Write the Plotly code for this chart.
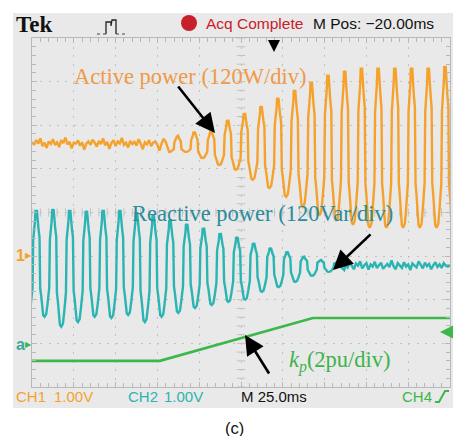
import plotly.graph_objects as go

# ---------------- data (screen divisions: x 0..10, y 0..8) ----------------
PERIOD = 0.4                      # one oscillation period in time divisions

# active power (orange): noisy flat start, then growing oscillation
ORANGE_FLAT = [5.62,5.55,5.66,5.58,5.70,5.52,5.60,5.48,5.63,5.57,5.68,5.55,5.61,5.50,5.66,5.59,
               5.72,5.56,5.62,5.47,5.60,5.58,5.65,5.53,5.61,5.44,5.58,5.63,5.55,5.67,5.60,5.51,
               5.64,5.57,5.70,5.54,5.62,5.46,5.59,5.66,5.52,5.63,5.58,5.71,5.55,5.60,5.49,5.64,
               5.57,5.62,5.53,5.68,5.58,5.45,5.61,5.56,5.66,5.52,5.60,5.63,5.55,5.42,5.58,5.69,
               5.62,5.50]
ORANGE_FIRST_PEAK = 3.48
ORANGE_PEAK = [5.76,5.85,5.87,6.12,6.28,6.44,6.63,6.81,7.00,7.16,7.25,7.32,7.32,7.32,7.32,7.32,7.36]
ORANGE_TROUGH = [5.39,5.25,5.09,4.98,4.75,4.56,4.36,4.13,3.94,3.81,3.72,3.65,3.65,3.65,3.65,3.65,3.65]
ORANGE_CENTER = 5.5

# reactive power (cyan): full oscillation, decaying, then noisy flat
CYAN_FIRST_PEAK = 0.1
CYAN_PEAK = [4.06,4.08,4.06,4.04,4.06,4.06,4.01,3.94,3.83,3.74,3.65,3.53,3.44,3.30,3.19,3.10,2.98,2.91,2.87]
CYAN_TROUGH = [1.61,1.38,1.49,1.61,1.58,1.65,1.49,1.61,1.70,1.81,1.88,1.95,2.00,2.18,2.29,2.41,2.55,2.64,2.68]
CYAN_CENTER = 2.8
CYAN_FLAT = [2.80,2.74,2.86,2.77,2.70,2.83,2.78,2.88,2.72,2.79,2.84,2.69,2.81,2.76,2.87,2.73,
             2.80,2.85,2.71,2.78,2.82,2.75,2.90,2.77,2.70,2.84,2.79,2.73,2.86,2.76,2.81,2.68,
             2.83,2.78,2.74,2.88,2.80,2.72,2.85,2.77,2.82,2.70,2.79,2.86,2.75,2.81,2.73,2.84,
             2.78,2.76,2.80]

# k_p ramp (green)
KP_T = [0.0, 3.06, 6.72, 10.0]
KP_V = [0.60, 0.60, 1.58, 1.58]

# ---------------- waveform shape (style of one stepped cycle) ----------------
TPL_PHASE = [-0.50,-0.40,-0.32,-0.28,-0.22,-0.18,-0.12,-0.07,-0.04,0.00,0.04,0.08,0.14,0.20,0.24,0.30,0.36,0.42]
TPL_LEVEL = [-1.0,-0.95,-0.75,-0.55,-0.45,0.45,0.62,0.80,1.0,0.93,1.0,0.80,0.65,0.50,-0.45,-0.60,-0.80,-0.97]


def cycles(first_peak, peaks, troughs, center):
    xs, ys = [], []
    for k, p in enumerate(peaks):
        tk = first_peak + k * PERIOD
        for ph, lv in zip(TPL_PHASE, TPL_LEVEL):
            if lv >= 0:
                y = center + lv * (p - center)
            else:
                tr = troughs[k] if ph > 0 else troughs[max(k - 1, 0)]
                y = center + (-lv) * (tr - center)
            xs.append(tk + ph * PERIOD)
            ys.append(y)
    return xs, ys


ox_c, oy_c = cycles(ORANGE_FIRST_PEAK, ORANGE_PEAK, ORANGE_TROUGH, ORANGE_CENTER)
ox = [i * 0.05 for i in range(len(ORANGE_FLAT))] + ox_c
oy = list(ORANGE_FLAT) + oy_c

cx_c, cy_c = cycles(CYAN_FIRST_PEAK, CYAN_PEAK, CYAN_TROUGH, CYAN_CENTER)
flat_start = CYAN_FIRST_PEAK + (len(CYAN_PEAK) - 1) * PERIOD + 0.5 * PERIOD
step = (10.0 - flat_start) / (len(CYAN_FLAT) - 1)
cx = cx_c + [flat_start + i * step for i in range(len(CYAN_FLAT))]
cy = cy_c + list(CYAN_FLAT)

# ---------------- figure ----------------
W, H = 453, 436
L, R, T, B = 32, 450, 38, 387


def pp(xp, yp):
    return (xp - L) / (R - L), (B - yp) / (B - T)


def dx(xp):
    return (xp - L) / (R - L) * 10


def dy(yp):
    return (B - yp) / (B - T) * 8


ORANGE = "#f5a22c"
CYAN = "#2ab5b2"
GREEN = "#3cb84a"
GRID = "#c2c2c2"

fig = go.Figure()

# centre cross tick marks
fig.add_trace(go.Scatter(x=[5] * 41, y=[i * 0.2 for i in range(41)], mode="markers",
                         marker=dict(symbol="line-ew", size=6, line=dict(color=GRID, width=1)),
                         hoverinfo="skip", showlegend=False))
fig.add_trace(go.Scatter(x=[i * 0.2 for i in range(51)], y=[4] * 51, mode="markers",
                         marker=dict(symbol="line-ns", size=6, line=dict(color=GRID, width=1)),
                         hoverinfo="skip", showlegend=False))

fig.add_trace(go.Scatter(x=KP_T, y=KP_V, mode="lines", line=dict(color=GREEN, width=2.6),
                         showlegend=False))
fig.add_trace(go.Scatter(x=cx, y=cy, mode="lines", line=dict(color=CYAN, width=2.4),
                         showlegend=False))
fig.add_trace(go.Scatter(x=ox, y=oy, mode="lines", line=dict(color=ORANGE, width=2.4),
                         showlegend=False))

axis_common = dict(showticklabels=False, zeroline=False, showline=True, linecolor="#b8b8b8",
                   linewidth=1, mirror="allticks", ticks="inside", ticklen=5, tickcolor="#b8b8b8",
                   dtick=1, gridcolor=GRID, gridwidth=1,
                   minor=dict(dtick=0.2, ticks="inside", ticklen=4, tickcolor="#b8b8b8", showgrid=False))
fig.update_xaxes(range=[0, 10], griddash="2px,6.72px", **axis_common)
fig.update_yaxes(range=[0, 8], griddash="2px,6.36px", **axis_common)

shapes = []
# grey screen frame (below plot area)
x0, y0 = pp(13, 408)
x1, y1 = pp(453, 13)
shapes.append(dict(type="rect", xref="paper", yref="paper", x0=x0, y0=y0, x1=x1, y1=y1,
                   fillcolor="#e9e9e9", line=dict(width=0), layer="below"))
# red acquisition dot
a0, b0 = pp(181, 31)
a1, b1 = pp(197, 15)
shapes.append(dict(type="circle", xref="paper", yref="paper", x0=a0, y0=b0, x1=a1, y1=b1,
                   fillcolor="#c8202a", line=dict(width=0)))
# pulse icon
pts = [(106, 34), (106, 22), (111, 22), (111, 26), (112, 20), (116, 20), (116, 34)]
path = "M " + " L ".join("%f,%f" % pp(*p) for p in pts)
shapes.append(dict(type="path", xref="paper", yref="paper", path=path,
                   line=dict(color="#222", width=1.3)))
for seg in [((97, 34), (106, 34)), ((116, 34), (128, 34))]:
    (p0x, p0y), (p1x, p1y) = pp(*seg[0]), pp(*seg[1])
    shapes.append(dict(type="line", xref="paper", yref="paper", x0=p0x, y0=p0y, x1=p1x, y1=p1y,
                       line=dict(color="#444", width=1.2, dash="dot")))
# CH4 slope icon
pts = [(435, 402), (439, 402), (445, 391), (449, 391)]
path = "M " + " L ".join("%f,%f" % pp(*p) for p in pts)
shapes.append(dict(type="path", xref="paper", yref="paper", path=path,
                   line=dict(color=GREEN, width=2)))

ann = []
SANS = "Liberation Sans, Arial, sans-serif"


def text(xp, yp, s, color, size, family=SANS, anchor="left"):
    x, y = pp(xp, yp)
    ann.append(dict(xref="paper", yref="paper", x=x, y=y, text=s, showarrow=False,
                    xanchor=anchor, yanchor="middle", font=dict(color=color, size=size, family=family)))


text(14, 24, "<b>Tek</b>", "#111", 23, family="Liberation Serif, Times New Roman, serif")
text(204, 23, "Acq Complete", "#c8202a", 15.5)
text(311, 23, "M Pos: \u221220.00ms", "#111", 15.5)
text(14, 396, "CH1", ORANGE, 15)
text(52, 396, "1.00V", ORANGE, 15)
text(126, 396, "CH2", CYAN, 15)
text(162, 396, "1.00V", CYAN, 15)
text(239, 396, "M 25.0ms", "#111", 15)
text(400, 396, "CH4", GREEN, 15)
text(234, 428, "(c)", "#111", 16.5, anchor="center")
text(14, 255, "<b>1</b>", ORANGE, 16)
text(23, 255, "\u25b6", ORANGE, 8)
text(14, 344, "<b>a</b>", "#3aa8a0", 16)
text(23, 344, "\u25b6", GREEN, 8)

SERIF = "Liberation Serif, Times New Roman, serif"
ann.append(dict(x=dx(190), y=dy(76), text="Active power (120W/div)", showarrow=False,
                font=dict(family=SERIF, size=22.5, color="#ef9a48")))
ann.append(dict(x=dx(262), y=dy(213), text="Reactive power (120Var/div)", showarrow=False,
                font=dict(family=SERIF, size=22.5, color="#2c8c9a")))
ann.append(dict(x=dx(340), y=dy(361), text="<i>k</i><sub><i>p</i></sub>(2pu/div)", showarrow=False,
                font=dict(family=SERIF, size=22.5, color="#3cb44b")))

# black arrows
for tip, tail in [((215, 133), (177, 85)), ((333, 270), (372, 233)), ((245, 335), (270, 375))]:
    ann.append(dict(x=dx(tip[0]), y=dy(tip[1]), ax=dx(tail[0]), ay=dy(tail[1]), axref="x", ayref="y",
                    text="", showarrow=True, arrowhead=2, arrowsize=1.5, arrowwidth=2.6,
                    arrowcolor="#000", standoff=0))
# trigger marker arrow
ann.append(dict(x=dx(274), y=dy(52), ax=dx(274), ay=dy(39), axref="x", ayref="y", text="",
                showarrow=True, arrowhead=2, arrowsize=1.2, arrowwidth=2, arrowcolor="#000", standoff=0))
# green ch4 trigger-level marker on the right edge
tx, ty = pp(440, 332)
ann.append(dict(xref="paper", yref="paper", x=tx, y=ty, ax=12, ay=0,
                text="", showarrow=True, arrowhead=2, arrowsize=1.2, arrowwidth=2.4,
                arrowcolor=GREEN, standoff=0))

fig.update_layout(width=W, height=H, margin=dict(l=L, r=W - R, t=T, b=H - B, pad=0),
                  paper_bgcolor="white", plot_bgcolor="white", shapes=shapes, annotations=ann,
                  showlegend=False)

fig.write_html("out.html")
